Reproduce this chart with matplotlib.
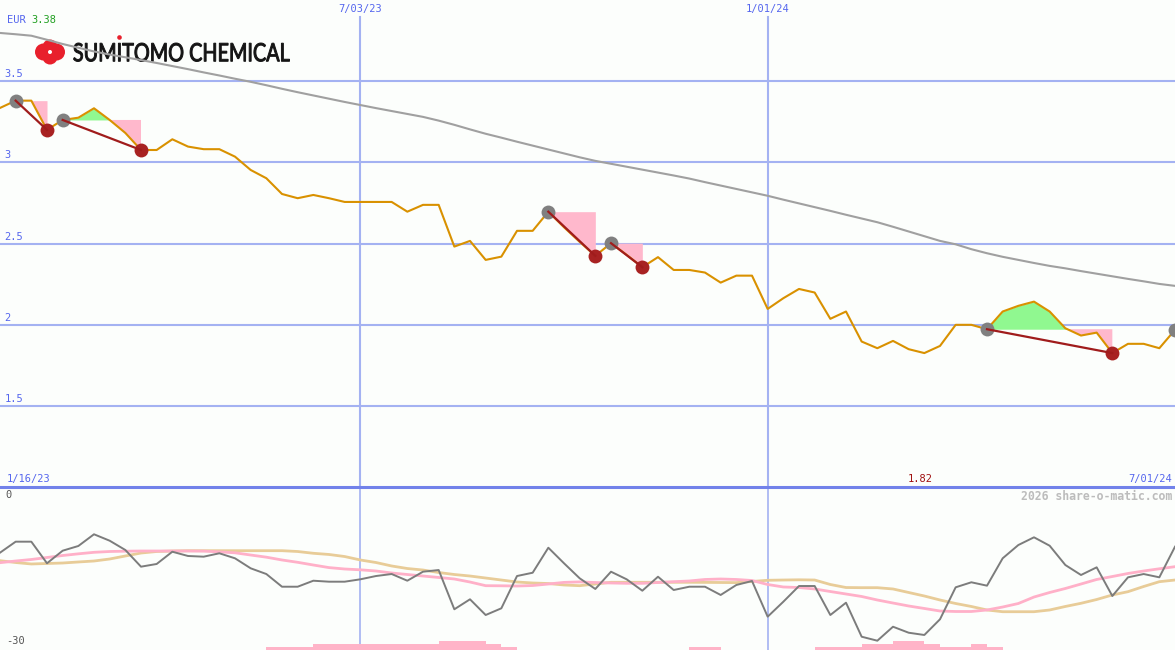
import numpy as np
import matplotlib
matplotlib.use("Agg")
import matplotlib.pyplot as plt
from matplotlib.lines import Line2D
from matplotlib.patches import Circle, PathPatch
from matplotlib.textpath import TextPath
from matplotlib.font_manager import FontProperties
from matplotlib.transforms import Affine2D

# weekly closes, 1/23/23 .. 7/01/24 (EUR)
price = [3.335, 3.380, 3.380, 3.200, 3.261, 3.275, 3.333, 3.261, 3.181, 3.076,
         3.076, 3.142, 3.097, 3.081, 3.081, 3.035, 2.953, 2.902, 2.805, 2.779,
         2.799, 2.779, 2.756, 2.756, 2.756, 2.756, 2.696, 2.738, 2.738, 2.481,
         2.516, 2.399, 2.419, 2.578, 2.578, 2.696, 2.600, 2.510, 2.424, 2.502,
         2.430, 2.354, 2.416, 2.337, 2.337, 2.321, 2.259, 2.302, 2.302, 2.097,
         2.163, 2.220, 2.198, 2.036, 2.081, 1.896, 1.855, 1.900, 1.849, 1.825,
         1.869, 1.999, 1.999, 1.972, 2.081, 2.116, 2.142, 2.081, 1.978, 1.933,
         1.951, 1.825, 1.882, 1.882, 1.855, 1.968]

# long moving average
price_ma = [3.797, 3.789, 3.780, 3.755, 3.729, 3.706, 3.683, 3.664, 3.647, 3.630,
            3.612, 3.593, 3.574, 3.554, 3.535, 3.515, 3.496, 3.475, 3.453, 3.432,
            3.412, 3.392, 3.372, 3.353, 3.334, 3.316, 3.298, 3.280, 3.257, 3.231,
            3.203, 3.176, 3.152, 3.127, 3.103, 3.079, 3.055, 3.031, 3.009, 2.991,
            2.973, 2.955, 2.937, 2.919, 2.900, 2.878, 2.857, 2.836, 2.815, 2.794,
            2.770, 2.747, 2.724, 2.701, 2.677, 2.654, 2.631, 2.603, 2.574, 2.545,
            2.516, 2.495, 2.465, 2.440, 2.418, 2.399, 2.380, 2.362, 2.347, 2.330,
            2.314, 2.298, 2.282, 2.267, 2.251, 2.239]

# lower panel oscillator and its two averages
osc = [-11.98, -9.94, -9.94, -13.94, -11.61, -10.74, -8.57, -9.76, -11.48, -14.57,
       -14.07, -11.80, -12.59, -12.72, -12.09, -13.02, -14.87, -15.93, -18.28, -18.28,
       -17.17, -17.35, -17.35, -16.91, -16.30, -15.93, -17.17, -15.50, -15.19, -22.46,
       -20.61, -23.52, -22.28, -16.30, -15.69, -11.06, -13.94, -16.72, -18.70, -15.50,
       -16.91, -19.02, -16.43, -18.89, -18.28, -18.28, -19.81, -17.96, -17.22, -23.83,
       -21.06, -18.15, -18.15, -23.52, -21.24, -27.54, -28.28, -25.69, -26.80, -27.22,
       -24.31, -18.39, -17.46, -18.09, -13.02, -10.56, -9.13, -10.69, -14.26, -16.11,
       -14.69, -20.00, -16.54, -15.93, -16.54, -10.87]

osc_pink = [-13.83, -13.52, -13.24, -12.87, -12.50, -12.19, -11.91, -11.76, -11.70, -11.67,
            -11.67, -11.67, -11.67, -11.69, -11.83, -12.00, -12.41, -12.81, -13.33, -13.76,
            -14.26, -14.74, -15.00, -15.15, -15.37, -15.74, -16.02, -16.30, -16.57, -16.85,
            -17.41, -18.09, -18.11, -18.15, -18.06, -17.78, -17.48, -17.39, -17.50, -17.59,
            -17.65, -17.65, -17.50, -17.35, -17.22, -16.94, -16.85, -16.94, -17.13, -17.87,
            -18.33, -18.43, -18.70, -19.17, -19.63, -20.09, -20.74, -21.30, -21.85, -22.31,
            -22.78, -22.87, -22.87, -22.59, -22.04, -21.39, -20.19, -19.35, -18.61, -17.78,
            -16.94, -16.39, -15.83, -15.37, -14.96, -14.57]

osc_tan = [-13.46, -13.80, -14.07, -13.98, -13.89, -13.70, -13.52, -13.15, -12.59, -12.04,
           -11.76, -11.67, -11.61, -11.61, -11.61, -11.61, -11.61, -11.61, -11.61, -11.76,
           -12.09, -12.31, -12.69, -13.33, -13.80, -14.44, -14.91, -15.19, -15.65, -16.02,
           -16.30, -16.67, -17.04, -17.41, -17.59, -17.69, -17.96, -18.09, -17.78, -17.46,
           -17.46, -17.46, -17.46, -17.46, -17.46, -17.48, -17.50, -17.52, -17.31, -17.09,
           -17.04, -17.00, -17.04, -17.87, -18.43, -18.46, -18.46, -18.70, -19.35, -20.00,
           -20.74, -21.39, -21.94, -22.59, -22.91, -22.91, -22.91, -22.59, -21.94, -21.35,
           -20.65, -19.81, -19.20, -18.24, -17.35, -17.04]

# small step bars at the bottom (one per week interval)
bar_levels = [0, 0, 0, 0, 0, 0, 0, 0, 0, 0,
              0, 0, 0, 0, 0, 0, 0, 1, 1, 1,
              2, 2, 2, 2, 2, 2, 2, 2, 3, 3,
              3, 2, 1, 0, 0, 0, 0, 0, 0, 0,
              0, 0, 0, 0, 1, 1, 0, 0, 0, 0,
              0, 0, 1, 1, 1, 2, 2, 3, 3, 2,
              1, 1, 2, 1, 0, 0, 0, 0, 0, 0,
              0, 0, 0, 0, 0]

# swing highs -> following lows
swings = [(1, 3), (4, 9), (35, 38), (39, 41), (63, 71)]
extra_high = [75]

price_ticks = [1.5, 2, 2.5, 3, 3.5]
price_tick_labels = ["1.5", "2", "2.5", "3", "3.5"]
date_ticks = [23, 49]
date_labels = ["7/03/23", "1/01/24"]
first_date, last_date = "1/16/23", "7/01/24"
last_low_label = "1.82"

bg = "#fcfefc"
grid_c = "#a4b2f2"
blue_txt = "#5566ee"
mono = "DejaVu Sans Mono"

x = np.arange(len(price))
p = np.array(price)

fig = plt.figure(figsize=(11.75, 6.5), dpi=100)
fig.patch.set_facecolor(bg)

# overlay in pixel coords for the logo
ov = fig.add_axes([0, 0, 1, 1], zorder=0)
ov.set_xlim(0, 1175)
ov.set_ylim(650, 0)
ov.axis("off")

tp = TextPath((0, 0), "SUMITOMO CHEMICAL", size=20, prop=FontProperties(family="Lato"))
bb = tp.get_extents()
tr = Affine2D().translate(-bb.x0, -bb.y0).scale(216 / bb.width, -18.5 / bb.height).translate(73.5, 61.5)
ov.add_patch(PathPatch(tp, transform=tr + ov.transData, facecolor="#141414",
                       edgecolor="#141414", lw=0.7))
logo_red = "#e8202c"
for cx, cy, r in [(43.5, 52, 8.5), (56.5, 52, 8.5), (50, 47, 7.5), (50, 57, 7.5)]:
    ov.add_patch(Circle((cx, cy), r, color=logo_red, lw=0))
ov.add_patch(Circle((50, 52), 2, color="white", lw=0))
ov.add_patch(Circle((119.5, 37.5), 2.3, color=logo_red, lw=0))

# upper panel
ax = fig.add_axes([0, 163 / 650, 1, 487 / 650], zorder=1)
ax.set_facecolor("none")
ax.set_xlim(0, len(price) - 1)
ax.set_ylim(1.0, 4.0)
ax.axis("off")

for v in price_ticks:
    ax.axhline(v, color=grid_c, lw=1.5, zorder=1)
for d in date_ticks:
    ax.axvline(d, ymax=1 - 17 / 487, color=grid_c, lw=1.5, zorder=1)

ax.plot(x, price_ma, color="#a0a0a0", lw=1.5, zorder=2)

for hi, lo in swings:
    xs = x[hi:lo + 1]
    ys = p[hi:lo + 1]
    lvl = p[hi]
    ax.fill_between(xs, lvl, ys, where=ys >= lvl, interpolate=True,
                    color="#90f890", lw=0, zorder=2)
    ax.fill_between(xs, lvl, ys, where=ys <= lvl, interpolate=True,
                    color="#ffb8cc", lw=0, zorder=2)

ax.plot(x, price, color="#d99100", lw=1.5, zorder=3)
for hi, lo in swings:
    ax.plot([x[hi], x[lo]], [p[hi], p[lo]], color="#a01c1c", lw=1.6, zorder=4)

highs = [h for h, _ in swings] + extra_high
lows = [l for _, l in swings]
ax.plot(x[highs], p[highs], "o", ms=10, color="#808080", mec="none", zorder=3.5)
ax.plot(x[lows], p[lows], "o", ms=10, color="#a82222", mec="none", zorder=3.5)

ytr = ax.get_yaxis_transform()
for v, lab in zip(price_ticks, price_tick_labels):
    ax.text(0.004, v + 0.012, lab, transform=ytr, family=mono, fontsize=7.5,
            color=blue_txt, va="bottom", ha="left")

xtr = ax.get_xaxis_transform()
for d, lab in zip(date_ticks, date_labels):
    ax.text(d, 1 - 9 / 487, lab, transform=xtr, family=mono, fontsize=7.5,
            color=blue_txt, ha="center", va="center")
ax.text(0.006, 1 - 20 / 487, "EUR", transform=ax.transAxes, family=mono,
        fontsize=7.5, color=blue_txt, va="center")
ax.text(0.027, 1 - 20 / 487, f"{price[1]:.2f}", transform=ax.transAxes, family=mono,
        fontsize=7.5, color="#22a022", va="center")
ax.text(0.006, 8 / 487, first_date, transform=ax.transAxes, family=mono,
        fontsize=7.5, color=blue_txt, va="center")
ax.text(0.9975, 8 / 487, last_date, transform=ax.transAxes, family=mono,
        fontsize=7.5, color=blue_txt, va="center", ha="right")
ax.text(0.783, 8 / 487, last_low_label, transform=ax.transAxes, family=mono,
        fontsize=7.5, color="#a01010", va="center", ha="center")

# lower panel
ax2 = fig.add_axes([0, 0, 1, 162 / 650], zorder=1)
ax2.set_facecolor("none")
ax2.set_xlim(0, len(price) - 1)
ax2.set_ylim(-30, 0)
ax2.axis("off")
for d in date_ticks:
    ax2.axvline(d, color=grid_c, lw=1.2, zorder=1)

bar_unit = 0.56
ax2.bar(np.arange(len(bar_levels)), np.array(bar_levels) * bar_unit, width=1.0,
        bottom=-30, align="edge", color="#ffb4c8", lw=0, zorder=2)
ax2.plot(x, osc_tan, color="#e8cc98", lw=2, zorder=2)
ax2.plot(x, osc_pink, color="#ffb0c8", lw=2, zorder=2)
ax2.plot(x, osc, color="#7c7c7c", lw=1.4, zorder=3)

ax2.text(0.005, 1 - 7 / 162, "0", transform=ax2.transAxes, family=mono,
         fontsize=7.5, color="#555555", va="center")
ax2.text(0.005, 9 / 162, "-30", transform=ax2.transAxes, family=mono,
         fontsize=7.5, color="#555555", va="center")
ax2.text(0.9975, 1 - 8 / 162, "2026 share-o-matic.com", transform=ax2.transAxes,
         family=mono, fontsize=8.3, weight="bold", color="#bcbcbc",
         va="center", ha="right")

# divider between panels
fig.add_artist(Line2D([0, 1], [(650 - 486.5) / 650] * 2, transform=fig.transFigure,
                      color="#7282ea", lw=2.2, zorder=6))

fig.savefig("out.png", dpi=100, facecolor=bg)
